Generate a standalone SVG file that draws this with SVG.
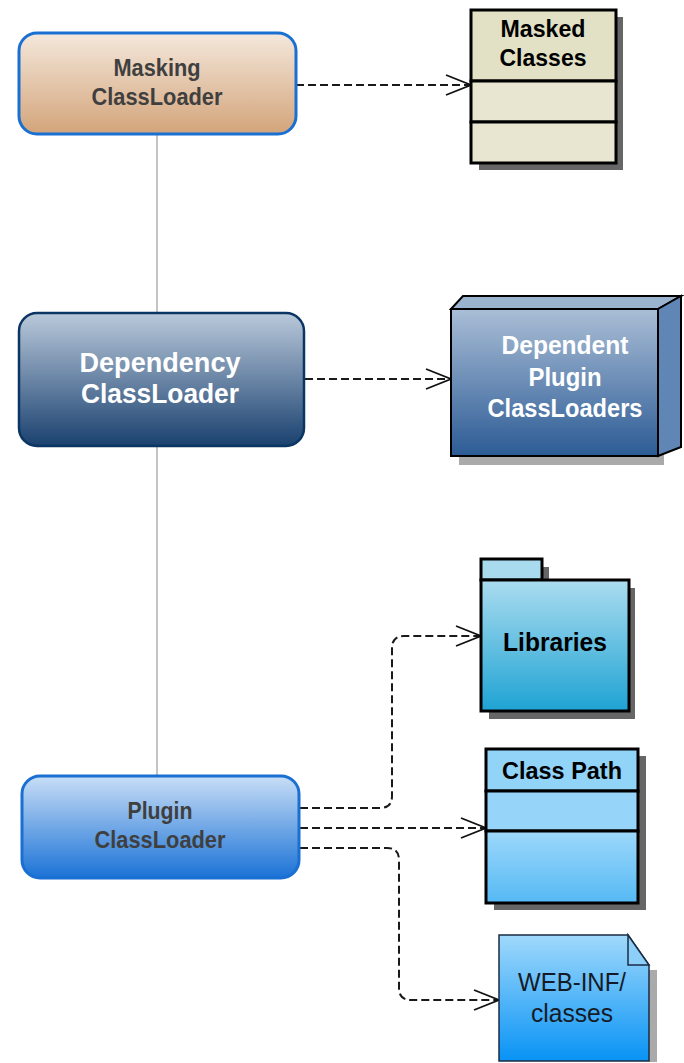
<svg xmlns="http://www.w3.org/2000/svg" width="684" height="1063" viewBox="0 0 684 1063">
<defs>
<linearGradient id="gMask" x1="0" y1="0" x2="0" y2="1"><stop offset="0" stop-color="#f4e8dc"/><stop offset="1" stop-color="#d3a47a"/></linearGradient>
<linearGradient id="gDep" x1="0" y1="0" x2="0" y2="1"><stop offset="0" stop-color="#bac9db"/><stop offset="1" stop-color="#1a416f"/></linearGradient>
<linearGradient id="gDepN" x1="0" y1="0" x2="0" y2="1"><stop offset="0" stop-color="#aabed6"/><stop offset="1" stop-color="#2c5b95"/></linearGradient>
<linearGradient id="gPlug" x1="0" y1="0" x2="0" y2="1"><stop offset="0" stop-color="#c8def6"/><stop offset="1" stop-color="#1b72d6"/></linearGradient>
<linearGradient id="gLib" x1="0" y1="0" x2="0" y2="1"><stop offset="0" stop-color="#abdcf0"/><stop offset="1" stop-color="#1ea3d3"/></linearGradient>
<linearGradient id="gCP" x1="0" y1="0" x2="0" y2="1"><stop offset="0" stop-color="#9dd8fb"/><stop offset="1" stop-color="#55b9f4"/></linearGradient>
<linearGradient id="gWeb" x1="0" y1="0" x2="0" y2="1"><stop offset="0" stop-color="#a0d9fb"/><stop offset="1" stop-color="#0893f5"/></linearGradient>
<marker id="arr" markerUnits="userSpaceOnUse" markerWidth="30" markerHeight="24" refX="26" refY="11" orient="auto">
<path d="M1,1 L26,11 L1,21" fill="none" stroke="#111" stroke-width="1.8"/>
</marker>
</defs>
<style>
.t{font-family:"Liberation Sans",Arial,sans-serif;font-weight:bold;text-anchor:middle}
.gray{fill:#3f3f3f}
.wh{fill:#ffffff}
.bk{fill:#000000}
.dash{fill:none;stroke:#1a1a1a;stroke-width:2;stroke-dasharray:8,4}
.sh{fill:#666666}
.box{stroke:#000;stroke-width:3}
</style>
<rect width="684" height="1063" fill="#ffffff"/>
<g id="connectors">
<line x1="157" y1="135" x2="157" y2="312" stroke="#c4c4c4" stroke-width="2"/>
<line x1="157" y1="447" x2="157" y2="776" stroke="#c4c4c4" stroke-width="2"/>
<path class="dash" d="M296,85 H471" marker-end="url(#arr)"/>
<path class="dash" d="M305,379 H451" marker-end="url(#arr)"/>
<path class="dash" d="M300,808 H380 Q392,808 392,796 V648 Q392,636 404,636 H481" marker-end="url(#arr)"/>
<path class="dash" d="M300,828 H486" marker-end="url(#arr)"/>
<path class="dash" d="M300,848 H387 Q399,848 399,860 V988 Q399,1000 411,1000 H499" marker-end="url(#arr)"/>
</g>
<g id="masking">
<rect x="19" y="33" width="277" height="101" rx="18" fill="url(#gMask)" stroke="#1a6fd2" stroke-width="3"/>
<text class="t gray" x="157" y="76" font-size="24" textLength="87" lengthAdjust="spacingAndGlyphs">Masking</text>
<text class="t gray" x="157" y="105" font-size="24" textLength="131" lengthAdjust="spacingAndGlyphs">ClassLoader</text>
</g>
<g id="masked">
<rect class="sh" x="479" y="17" width="144" height="153"/>
<rect x="471" y="10" width="145" height="71" fill="#e2e1c5" class="box"/>
<rect x="471" y="81" width="145" height="41" fill="#e8e6d0" class="box"/>
<rect x="471" y="122" width="145" height="41" fill="#e8e6d0" class="box"/>
<text class="t bk" x="543" y="37" font-size="24" textLength="85" lengthAdjust="spacingAndGlyphs">Masked</text>
<text class="t bk" x="543" y="66" font-size="24" textLength="87" lengthAdjust="spacingAndGlyphs">Classes</text>
</g>
<g id="dependency">
<rect x="19" y="313" width="285" height="133" rx="18" fill="url(#gDep)" stroke="#0b3562" stroke-width="2.5"/>
<text class="t wh" x="160" y="372" font-size="28" textLength="161" lengthAdjust="spacingAndGlyphs">Dependency</text>
<text class="t wh" x="160" y="403" font-size="28" textLength="158" lengthAdjust="spacingAndGlyphs">ClassLoader</text>
</g>
<g id="dependent">
<rect x="459" y="455" width="205" height="10" fill="#aaaaaa"/>
<polygon points="451,309 463,296 681,296 658,309" fill="#9ab3cf" stroke="#000" stroke-width="2"/>
<polygon points="658,309 681,296 681,447 658,456" fill="#5f86b5" stroke="#000" stroke-width="2"/>
<rect x="451" y="309" width="207" height="147" fill="url(#gDepN)" stroke="#000" stroke-width="2"/>
<text class="t wh" x="565" y="354" font-size="25" textLength="127" lengthAdjust="spacingAndGlyphs">Dependent</text>
<text class="t wh" x="565" y="386" font-size="25" textLength="73" lengthAdjust="spacingAndGlyphs">Plugin</text>
<text class="t wh" x="565" y="417" font-size="25" textLength="155" lengthAdjust="spacingAndGlyphs">ClassLoaders</text>
</g>
<g id="libraries">
<rect class="sh" x="489" y="567" width="60" height="20"/>
<rect class="sh" x="489" y="588" width="146" height="131"/>
<rect x="481" y="559" width="61" height="21" fill="#a9dbef" class="box"/>
<rect x="481" y="580" width="148" height="131" fill="url(#gLib)" class="box"/>
<text class="t bk" x="555" y="651" font-size="25" textLength="104" lengthAdjust="spacingAndGlyphs">Libraries</text>
</g>
<g id="plugin">
<rect x="22" y="776" width="277" height="102" rx="18" fill="url(#gPlug)" stroke="#1a6fd2" stroke-width="3"/>
<text class="t gray" x="160" y="819" font-size="24" textLength="65" lengthAdjust="spacingAndGlyphs">Plugin</text>
<text class="t gray" x="160" y="848" font-size="24" textLength="131" lengthAdjust="spacingAndGlyphs">ClassLoader</text>
</g>
<g id="classpath">
<rect class="sh" x="494" y="756" width="152" height="154"/>
<rect x="486" y="749" width="152" height="42" fill="#92d3f8" class="box"/>
<rect x="486" y="791" width="152" height="40" fill="#96d4fa" class="box"/>
<rect x="486" y="831" width="152" height="72" fill="url(#gCP)" class="box"/>
<text class="t bk" x="562" y="779" font-size="24" textLength="120" lengthAdjust="spacingAndGlyphs">Class Path</text>
</g>
<g id="webinf">
<rect x="649" y="970" width="8" height="92" fill="#aaaaaa"/>
<polygon points="499,935 628,935 649,965 649,1061 499,1061" fill="url(#gWeb)" stroke="#1a2c44" stroke-width="1.5"/>
<polygon points="628,935 628,965 649,965" fill="#8ccff8" stroke="#1a2c44" stroke-width="1.5"/>
<text x="572" y="991" font-size="25" font-family="Liberation Sans, Arial, sans-serif" text-anchor="middle" fill="#151b26" textLength="108" lengthAdjust="spacingAndGlyphs">WEB-INF/</text>
<text x="572" y="1022" font-size="25" font-family="Liberation Sans, Arial, sans-serif" text-anchor="middle" fill="#151b26" textLength="82" lengthAdjust="spacingAndGlyphs">classes</text>
</g>
</svg>
